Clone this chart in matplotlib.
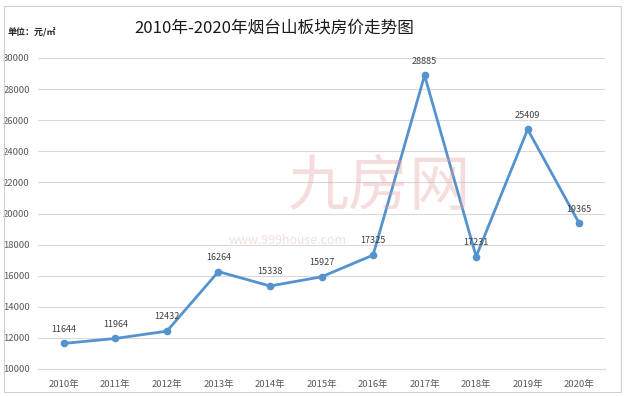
import matplotlib.pyplot as plt
import numpy as np

plt.rcParams['font.family'] = ['Noto Sans CJK SC', 'DejaVu Sans']

years = ['2010年', '2011年', '2012年', '2013年', '2014年', '2015年',
         '2016年', '2017年', '2018年', '2019年', '2020年']
prices = [11644, 11964, 12432, 16264, 15338, 15927, 17325, 28885, 17231, 25409, 19365]
yticks = np.arange(10000, 30001, 2000)

fig = plt.figure(figsize=(6.25, 3.96), dpi=100)
fig.patch.set_facecolor('white')
ax = fig.add_axes([38 / 625, 1 - 369 / 396, 567 / 625, 311 / 396])

x = np.arange(len(years))
ax.plot(x, prices, color='#5593CF', linewidth=2.0, marker='o', markersize=4.5)
for xi, v in zip(x, prices):
    ax.annotate(str(v), (xi, v), xytext=(0, 7), textcoords='offset points',
                ha='center', va='bottom', fontsize=6.5, color='#404040')

ax.set_xlim(-0.5, len(years) - 0.5)
ax.set_ylim(10000, 30000)
ax.set_yticks(yticks)
ax.set_xticks(x)
ax.set_xticklabels(years)
ax.grid(axis='y', color='#D9D9D9', linewidth=0.8)
ax.set_axisbelow(True)
for s in ['top', 'right', 'left']:
    ax.spines[s].set_visible(False)
ax.spines['bottom'].set_color('#D9D9D9')
ax.tick_params(length=0, labelsize=6.8, colors='#595959', pad=8)
ax.tick_params(axis='y', pad=6)

# watermark
fig.text(380 / 625, 1 - 188 / 396, '九房网', fontsize=44, color='#E8A0A0', alpha=0.35,
         ha='center', va='center')
fig.text(288 / 625, 1 - 240 / 396, 'www.999house.com', fontsize=9, color='#E0B0B0',
         alpha=0.4, ha='center', va='center')

fig.text(274 / 625, 1 - 28 / 396, '2010年-2020年烟台山板块房价走势图', fontsize=12,
         ha='center', va='center', color='#1A1A1A', fontweight='medium')
fig.text(8 / 625, 1 - 33 / 396, '单位：元/㎡', fontsize=6.5, fontweight='bold',
         ha='left', va='center', color='#262626')

# outer frame
fig.add_artist(plt.Rectangle((4 / 625, 4 / 396), 617 / 625, 386 / 396, fill=False,
                             edgecolor='#D0D0D0', linewidth=0.8, transform=fig.transFigure))

fig.savefig('out.png', dpi=100)
